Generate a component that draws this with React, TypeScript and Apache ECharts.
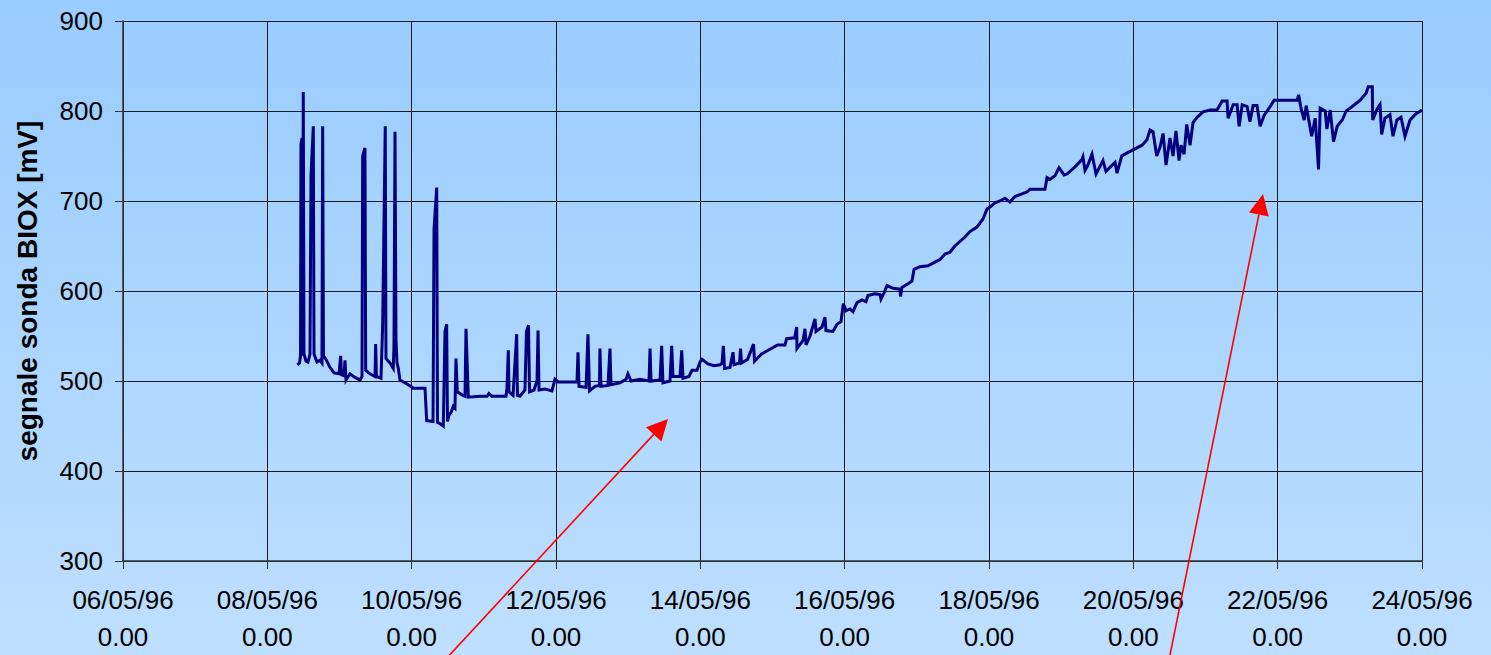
import React, { useEffect, useRef } from "react";
import * as echarts from "echarts";

// x tick labels (every 2 days, starting 06/05/96 0.00)
const dateTicks = ["06/05/96", "08/05/96", "10/05/96", "12/05/96", "14/05/96", "16/05/96", "18/05/96", "20/05/96", "22/05/96", "24/05/96"];
const timeTick = "0.00";
const yAxisTitle = "segnale sonda BIOX [mV]";

// time in days since 06/05/96 0.00
const tDays = [
  2.415, 2.446, 2.46, 2.466, 2.48, 2.487, 2.498, 2.508, 2.536, 2.563, 2.591, 2.605, 2.637, 2.647, 2.688, 2.73, 2.757, 2.767, 2.778, 2.813,
  2.868, 2.924, 2.993, 3.016, 3.027, 3.062, 3.076, 3.09, 3.145, 3.215, 3.284, 3.312, 3.321, 3.353, 3.363, 3.422, 3.492, 3.501, 3.512, 3.575,
  3.598, 3.634, 3.644, 3.7, 3.745, 3.755, 3.769, 3.783, 3.797, 3.815, 3.838, 3.907, 3.991, 4.018, 4.185, 4.208, 4.296, 4.31, 4.347, 4.358,
  4.406, 4.438, 4.462, 4.485, 4.496, 4.517, 4.545, 4.577, 4.6, 4.614, 4.632, 4.711, 4.739, 4.753, 4.785, 4.947,
  5.044, 5.071, 5.113, 5.307, 5.321, 5.339, 5.349, 5.405, 5.455, 5.466, 5.501, 5.57, 5.591, 5.619, 5.633, 5.695, 5.737, 5.751, 5.765, 5.848,
  5.944, 5.986, 6.028, 6.194, 6.291, 6.305, 6.319, 6.416, 6.443, 6.464, 6.54, 6.602, 6.609, 6.623, 6.72, 6.748, 6.762, 6.887, 6.97, 6.997,
  7.039, 7.164, 7.289, 7.303, 7.317, 7.442, 7.464, 7.482, 7.58, 7.603, 7.621, 7.718, 7.742, 7.76, 7.843, 7.885, 7.954, 7.996, 8.024, 8.107,
  8.191, 8.273, 8.301, 8.319, 8.335, 8.411, 8.453, 8.467, 8.543, 8.557, 8.571, 8.654, 8.737, 8.751, 8.848, 8.959, 9.07, 9.173, 9.196, 9.307,
  9.335, 9.339, 9.423, 9.45, 9.465, 9.52, 9.589, 9.603, 9.686, 9.727, 9.741, 9.838, 9.894, 9.949, 9.981, 10.019, 10.074, 10.115, 10.171, 10.24,
  10.296, 10.323, 10.42, 10.49, 10.503, 10.545, 10.587, 10.67, 10.767, 10.774, 10.794, 10.878, 10.933, 10.961, 11.044, 11.154, 11.251, 11.321, 11.39, 11.459,
  11.528, 11.597, 11.667, 11.736, 11.833, 11.916, 11.972, 12.027, 12.083, 12.152, 12.221, 12.29, 12.36, 12.457, 12.526, 12.568, 12.776, 12.804, 12.845, 12.914,
  12.97, 13.039, 13.081, 13.192, 13.288, 13.302, 13.33, 13.371, 13.427, 13.483, 13.579, 13.621, 13.746, 13.774, 13.839, 13.927, 14.024, 14.121, 14.189, 14.231,
  14.273, 14.324, 14.37, 14.412, 14.453, 14.508, 14.55, 14.591, 14.633, 14.661, 14.703, 14.74, 14.786, 14.827, 14.883, 14.966, 15.063, 15.16, 15.23, 15.299,
  15.313, 15.383, 15.438, 15.466, 15.508, 15.577, 15.616, 15.659, 15.714, 15.757, 15.812, 15.896, 15.951, 16.27, 16.291, 16.326, 16.367, 16.395, 16.471, 16.52,
  16.566, 16.589, 16.659, 16.682, 16.728, 16.774, 16.825, 16.895, 16.95, 17.033, 17.144, 17.227, 17.255, 17.311, 17.317, 17.377, 17.418, 17.441, 17.487, 17.556,
  17.598, 17.653, 17.709, 17.764, 17.834, 17.917, 18.0,
];

// BIOX probe signal [mV]
const signalMv = [
  518, 520, 528, 763, 770, 528, 821, 530, 522, 521, 530, 728, 783, 530, 521, 523, 520, 783, 528, 524,
  515, 509, 508, 528, 507, 506, 523, 501, 508, 504, 501, 505, 750, 759, 512, 508, 505, 541, 505, 503,
  562, 783, 525, 520, 514, 540, 777, 545, 520, 514, 501, 498, 494, 492, 492, 456, 455, 669, 715, 454,
  452, 450, 555, 563, 455, 462, 465, 472, 470, 525, 488, 484, 483, 558, 482, 483,
  483, 486, 483, 483, 492, 534, 488, 484, 552, 484, 483, 490, 555, 562, 488, 490, 500, 556, 490, 491,
  489, 502, 499, 499, 499, 532, 494, 493, 552, 489, 494, 495, 536, 494, 495, 536, 496, 498, 502, 508,
  500, 502, 500, 536, 500, 501, 539, 498, 500, 539, 505, 505, 534, 503, 505, 512, 512, 521, 524, 519,
  517, 518, 520, 539, 514, 515, 532, 518, 520, 536, 520, 524, 541, 522, 530, 535, 540, 540, 547, 548,
  560, 536, 545, 558, 540, 550, 569, 555, 560, 571, 556, 555, 563, 566, 586, 578, 580, 577, 587, 590,
  588, 595, 597, 596, 591, 598, 606, 603, 602, 594, 604, 608, 611, 624, 627, 628, 632, 635, 641, 643,
  650, 655, 660, 666, 671, 680, 691, 694, 698, 700, 703, 699, 705, 708, 710, 713, 713, 726, 724, 728,
  737, 729, 730, 738, 746, 749, 734, 740, 752, 730, 745, 733, 743, 731, 750, 754, 758, 762, 768, 779,
  777, 750, 760, 775, 740, 770, 750, 778, 745, 762, 752, 785, 762, 787, 793, 799, 801, 801, 811, 811,
  792, 807, 807, 783, 807, 805, 788, 806, 806, 783, 795, 805, 812, 812, 818, 802, 790, 806, 772, 792,
  735, 803, 800, 780, 801, 766, 783, 790, 800, 805, 812, 820, 827, 827, 790, 802, 807, 774, 792, 796,
  772, 790, 793, 772, 790, 797, 801,
];

const FONT = "'Liberation Sans', Arial, sans-serif";

function arrow(tail: number[], tip: number[], len: number, hw: number) {
  const dx = tip[0] - tail[0];
  const dy = tip[1] - tail[1];
  const L = Math.sqrt(dx * dx + dy * dy);
  const ux = dx / L, uy = dy / L;
  const nx = -uy, ny = ux;
  const bx = tip[0] - ux * len, by = tip[1] - uy * len;
  return [
    {
      type: "line",
      shape: { x1: tail[0], y1: tail[1], x2: bx, y2: by },
      style: { stroke: "#FF0000", lineWidth: 1.6 },
      z: 100,
    },
    {
      type: "polygon",
      shape: { points: [tip, [bx + nx * hw, by + ny * hw], [bx - nx * hw, by - ny * hw]] },
      style: { fill: "#FF0000" },
      z: 100,
    },
  ];
}

export default function App() {
  const ref = useRef<HTMLDivElement>(null);
  useEffect(() => {
    if (!ref.current) return;
    const chart = echarts.init(ref.current, null, { renderer: "svg" });
    const data = tDays.map((t, i) => [t, signalMv[i]]);
    chart.setOption({
      animation: false,
      backgroundColor: new echarts.graphic.LinearGradient(0, 0, 0, 1, [
        { offset: 0, color: "#99CCFF" },
        { offset: 1, color: "#BEDFFF" },
      ]),
      grid: { left: 123, right: 69, top: 21, bottom: 92, containLabel: false },
      xAxis: {
        type: "value",
        min: 0,
        max: 18,
        interval: 2,
        axisLine: { show: true, onZero: false, lineStyle: { color: "#333333", width: 1.5 } },
        axisTick: { show: true, inside: false, length: 8, lineStyle: { color: "#333333" } },
        splitLine: { show: true, lineStyle: { color: "#1a1a1a", width: 1 } },
        axisLabel: {
          margin: 20,
          color: "#000000",
          fontFamily: FONT,
          fontSize: 26,
          lineHeight: 37,
          formatter: (v: number) => {
            const i = Math.round(v / 2);
            return (dateTicks[i] ?? "") + "\n" + timeTick;
          },
        },
      },
      yAxis: {
        type: "value",
        min: 300,
        max: 900,
        interval: 100,
        axisLine: { show: true, lineStyle: { color: "#333333", width: 1.5 } },
        axisTick: { show: true, inside: false, length: 8, lineStyle: { color: "#333333" } },
        splitLine: { show: true, lineStyle: { color: "#1a1a1a", width: 1 } },
        axisLabel: { margin: 20, color: "#000000", fontFamily: FONT, fontSize: 26 },
      },
      graphic: [
        {
          type: "text",
          x: 27,
          y: 291,
          rotation: Math.PI / 2,
          style: {
            text: yAxisTitle,
            font: `bold 28px ${FONT}`,
            fill: "#000000",
            align: "center",
            verticalAlign: "middle",
          },
          z: 50,
        },
        ...arrow([445, 660], [668, 419], 21, 10.5),
        ...arrow([1169, 660], [1263, 194], 21, 10),
      ],
      series: [
        {
          type: "line",
          data,
          showSymbol: false,
          symbol: "none",
          lineStyle: { color: "#000080", width: 3, join: "miter" },
          z: 10,
        },
      ],
    });
    return () => chart.dispose();
  }, []);
  return <div ref={ref} style={{ position: "fixed", left: 0, top: 0, width: 1491, height: 655 }} />;
}
